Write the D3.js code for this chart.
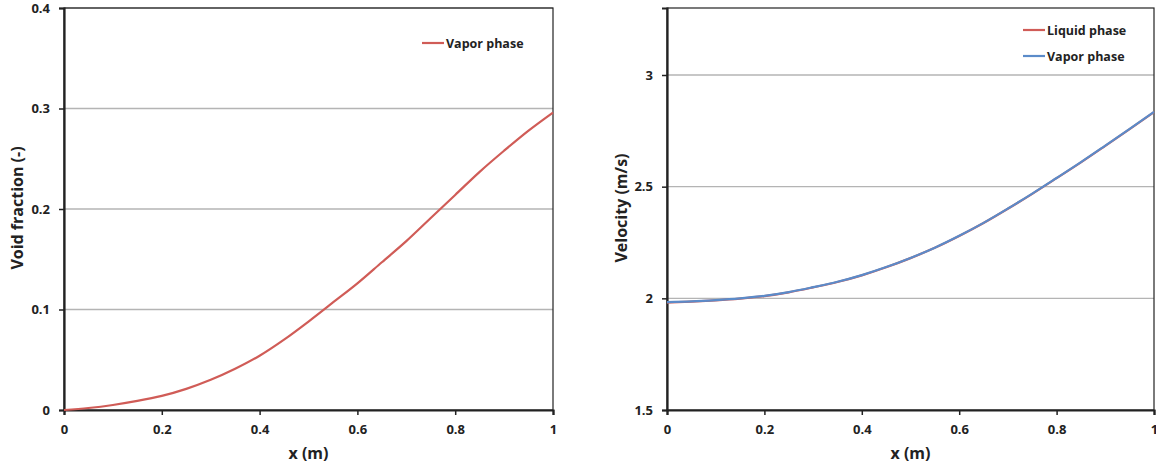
<!DOCTYPE html>
<html>

<head>
    <meta charset="UTF-8">
    <style>
        body { margin: 0; background: #fff; }
        svg { display: block; font-family: "Open Sans", sans-serif; font-weight: bold; }
    </style>
</head>

<body>
    <svg></svg>
    <script src="https://d3js.org/d3.v7.min.js"></script>
    <script>
        // data
        let xVals = [0, 0.05, 0.1, 0.15, 0.2, 0.25, 0.3, 0.35, 0.4, 0.45, 0.5, 0.55, 0.6, 0.65, 0.7, 0.75, 0.8, 0.85, 0.9, 0.95, 1.0];
        let voidVapor = [0, 0.002, 0.005, 0.009, 0.014, 0.021, 0.030, 0.041, 0.054, 0.070, 0.088, 0.107, 0.126, 0.147, 0.168, 0.191, 0.214, 0.237, 0.258, 0.278, 0.296];
        let velLiquid = [1.981, 1.985, 1.991, 1.999, 2.010, 2.027, 2.049, 2.073, 2.103, 2.139, 2.180, 2.226, 2.279, 2.337, 2.401, 2.468, 2.538, 2.609, 2.683, 2.758, 2.834];
        let velVapor = [1.983, 1.986, 1.992, 2.000, 2.011, 2.028, 2.050, 2.074, 2.104, 2.140, 2.181, 2.227, 2.280, 2.338, 2.402, 2.469, 2.539, 2.610, 2.684, 2.759, 2.835];
        let xTicks = [0, 0.2, 0.4, 0.6, 0.8, 1];
        let voidTicks = [0, 0.1, 0.2, 0.3, 0.4];
        let velTicks = [1.5, 2, 2.5, 3];

        let width = 1156,
            height = 467;

        let svg = d3.select("svg")
            .attr("width", width)
            .attr("height", height);

        let red = "#d05c57",
            blue = "#5b8bc9";

        function panel(opts) {
            let x = d3.scaleLinear().domain([0, 1]).range([opts.left, opts.right]);
            let y = d3.scaleLinear().domain(opts.yDomain).range([410, 8]);
            let g = svg.append("g");

            // gridlines
            g.selectAll(".grid")
                .data(opts.yTicks.filter(d => d !== opts.yDomain[0]))
                .enter()
                .append("line")
                .attr("x1", opts.left)
                .attr("x2", opts.right)
                .attr("y1", d => y(d))
                .attr("y2", d => y(d))
                .attr("stroke", "#b4b4b4")
                .attr("stroke-width", 1.3);

            // frame
            g.append("rect")
                .attr("x", opts.left)
                .attr("y", 8)
                .attr("width", opts.right - opts.left)
                .attr("height", 402)
                .attr("fill", "none")
                .attr("stroke", "#222")
                .attr("stroke-width", 1.2);

            let yAxis = g.append("g")
                .attr("transform", "translate(" + opts.left + ",0)")
                .call(d3.axisLeft(y).tickValues(opts.yTicks).tickSize(5).tickPadding(9).tickFormat(d3.format("")));
            let xAxis = g.append("g")
                .attr("transform", "translate(0,410)")
                .call(d3.axisBottom(x).tickValues(xTicks).tickSize(5).tickPadding(10).tickFormat(d3.format("")));
            [yAxis, xAxis].forEach(a => {
                a.select(".domain").attr("stroke", "#222").attr("stroke-width", 2.2);
                a.selectAll(".tick line").attr("stroke", "#222").attr("stroke-width", 1.5);
                a.selectAll(".tick text")
                    .attr("fill", "#222")
                    .style("font-size", "13px")
                    .style("font-family", "Open Sans, sans-serif")
                    .style("font-weight", "bold");
            });

            let line = d3.line()
                .x((d, i) => x(xVals[i]))
                .y(d => y(d))
                .curve(d3.curveMonotoneX);

            opts.series.forEach(s => {
                g.append("path")
                    .datum(s.values)
                    .attr("fill", "none")
                    .attr("stroke", s.color)
                    .attr("stroke-width", 2.2)
                    .attr("d", line);
            });

            // legend
            opts.series.forEach((s, i) => {
                let ly = opts.legendY + i * 26;
                g.append("line")
                    .attr("x1", opts.legendX)
                    .attr("x2", opts.legendX + 22)
                    .attr("y1", ly)
                    .attr("y2", ly)
                    .attr("stroke", s.color)
                    .attr("stroke-width", 2.2);
                g.append("text")
                    .attr("x", opts.legendX + 24)
                    .attr("y", ly + 4.5)
                    .attr("fill", "#222")
                    .style("font-size", "12.5px")
                    .text(s.name);
            });

            // axis titles
            g.append("text")
                .attr("x", (opts.left + opts.right) / 2)
                .attr("y", 459)
                .attr("text-anchor", "middle")
                .attr("fill", "#222")
                .style("font-size", "16px")
                .text("x (m)");
            g.append("text")
                .attr("transform", "translate(" + opts.titleX + ",208) rotate(-90)")
                .attr("text-anchor", "middle")
                .attr("fill", "#222")
                .style("font-size", "16px")
                .text(opts.yTitle);
        }

        panel({
            left: 64, right: 553,
            yDomain: [0, 0.4],
            yTicks: voidTicks,
            yTitle: "Void fraction (-)",
            titleX: 23,
            legendX: 422, legendY: 43,
            series: [{ name: "Vapor phase", values: voidVapor, color: red }]
        });

        panel({
            left: 667, right: 1154,
            yDomain: [1.5, 3.3],
            yTicks: velTicks,
            yTitle: "Velocity (m/s)",
            titleX: 627,
            legendX: 1023, legendY: 30,
            series: [
                { name: "Liquid phase", values: velLiquid, color: red },
                { name: "Vapor phase", values: velVapor, color: blue }
            ]
        });
    </script>
</body>

</html>
